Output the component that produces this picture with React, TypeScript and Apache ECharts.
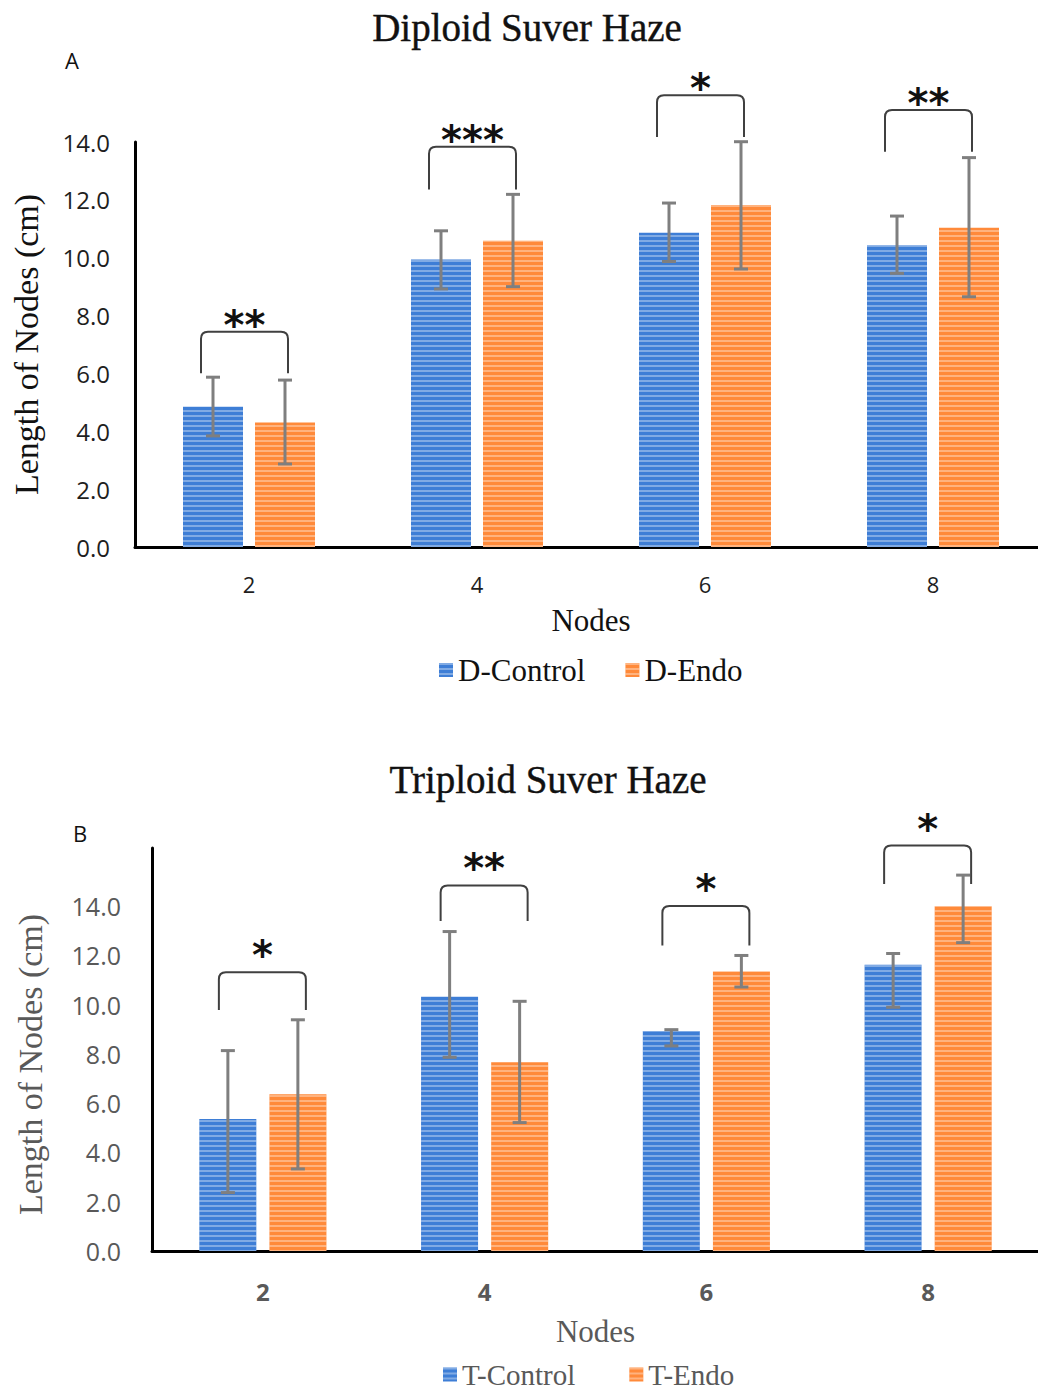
import React, { useEffect, useRef } from 'react';
import * as echarts from 'echarts';

// ---------- data ----------
const nodes = ['2', '4', '6', '8'];
const yTicksA = [0, 2, 4, 6, 8, 10, 12, 14];

// Panel A – Diploid
const dControl = [4.85, 9.94, 10.86, 10.43];
const dEndo = [4.3, 10.59, 11.82, 11.04];
const dControlLow = [3.84, 8.92, 9.87, 9.46];
const dControlHigh = [5.87, 10.93, 11.89, 11.44];
const dEndoLow = [2.87, 9.0, 9.61, 8.65];
const dEndoHigh = [5.77, 12.19, 14.01, 13.46];
const dBracketTop = [7.44, 13.84, 15.62, 15.11];
const dBracketBottom = [6.01, 12.36, 14.17, 13.66];
const dStars = ['**', '***', '*', '**'];

// Panel B – Triploid
const tControl = [5.36, 10.32, 8.93, 11.61];
const tEndo = [6.36, 7.66, 11.34, 13.99];
const tControlLow = [2.37, 7.86, 8.32, 9.89];
const tControlHigh = [8.13, 12.96, 8.98, 12.07];
const tEndoLow = [3.33, 5.21, 10.71, 12.51];
const tEndoHigh = [9.38, 10.13, 11.99, 15.25];
const tBracketTop = [11.31, 14.83, 14.0, 16.45];
const tBracketBottom = [9.78, 13.39, 12.39, 14.89];
const tStars = ['*', '**', '*', '*'];

const BLUE = '#3E7ED6';
const ORANGE = '#FF8A3A';
const SERIF = '"Liberation Serif", "Times New Roman", serif';
const SANS = '"Open Sans", "Liberation Sans", sans-serif';

const stripes = {
  symbol: 'rect',
  symbolSize: 1,
  dashArrayX: [1, 0],
  dashArrayY: [1.5, 2.5],
  rotation: 0,
  color: 'rgba(255,255,255,0.35)',
};

function errData(low: number[], high: number[], s: number) {
  return low.map((l, i) => [i, l, high[i], s]);
}

function errRender(offsets: number[]) {
  return (params: any, api: any) => {
    const i = api.value(0);
    const lo = api.value(1);
    const hi = api.value(2);
    const s = api.value(3);
    const pt = api.coord([i, hi]);
    const pb = api.coord([i, lo]);
    const x = pt[0] + offsets[s];
    const cap = 7;
    const st = { stroke: '#7F7F7F', lineWidth: 3 };
    return {
      type: 'group',
      children: [
        { type: 'line', shape: { x1: x, y1: pt[1], x2: x, y2: pb[1] }, style: st },
        { type: 'line', shape: { x1: x - cap, y1: pt[1], x2: x + cap, y2: pt[1] }, style: st },
        { type: 'line', shape: { x1: x - cap, y1: pb[1], x2: x + cap, y2: pb[1] }, style: st },
      ],
    };
  };
}

function bracketRender(stars: string[], L: number, R: number, starOff: number) {
  return (params: any, api: any) => {
    const i = api.value(0);
    const top = api.value(1);
    const bot = api.value(2);
    const pt = api.coord([i, top]);
    const pb = api.coord([i, bot]);
    const xl = pt[0] + L;
    const xr = pt[0] + R;
    const yt = pt[1];
    const yb = pb[1];
    const r = 7;
    const d = `M${xl},${yb} L${xl},${yt + r} Q${xl},${yt} ${xl + r},${yt} L${xr - r},${yt} Q${xr},${yt} ${xr},${yt + r} L${xr},${yb}`;
    return {
      type: 'group',
      children: [
        { type: 'path', shape: { pathData: d }, style: { fill: 'none', stroke: '#404040', lineWidth: 2 } },
        {
          type: 'text',
          style: {
            text: stars[params.dataIndex],
            x: (xl + xr) / 2,
            y: yt + starOff,
            align: 'center',
            verticalAlign: 'middle',
            textAlign: 'center',
            textVerticalAlign: 'middle',
            fontSize: 40,
            fontWeight: 'bold',
            fontFamily: '"DejaVu Sans", sans-serif',
            fill: '#111',
          },
        },
      ],
    };
  };
}

const centered = { align: 'center', verticalAlign: 'middle', textAlign: 'center', textVerticalAlign: 'middle' };

export default function App() {
  const ref = useRef<HTMLDivElement>(null);
  useEffect(() => {
    if (!ref.current) return;
    const chart = echarts.init(ref.current, null, { renderer: 'svg' });
    const option: any = {
      animation: false,
      backgroundColor: '#fff',
      graphic: [
        { type: 'text', x: 527, y: 27, style: { text: 'Diploid Suver Haze', ...centered, fontSize: 39, fontFamily: SERIF, fill: '#111', stroke: '#111', lineWidth: 0.4 } },
        { type: 'text', x: 548, y: 779, style: { text: 'Triploid Suver Haze', ...centered, fontSize: 39, fontFamily: SERIF, fill: '#111', stroke: '#111', lineWidth: 0.4 } },
        { type: 'text', x: 72, y: 60, style: { text: 'A', ...centered, fontSize: 22, fontFamily: SANS, fill: '#111' } },
        { type: 'text', x: 80, y: 833, style: { text: 'B', ...centered, fontSize: 22, fontFamily: SANS, fill: '#111' } },
      ],
      legend: [
        {
          data: ['D-Control', 'D-Endo'],
          left: 439,
          top: 654,
          padding: 0,
          icon: 'rect',
          itemWidth: 14,
          itemHeight: 14,
          itemGap: 40,
          textStyle: { fontFamily: SERIF, fontSize: 31, color: '#111', lineHeight: 32 },
        },
        {
          data: ['T-Control', 'T-Endo'],
          left: 443,
          top: 1360,
          padding: 0,
          icon: 'rect',
          itemWidth: 14,
          itemHeight: 14,
          itemGap: 54,
          textStyle: { fontFamily: SERIF, fontSize: 29, color: '#595959', lineHeight: 28 },
        },
      ],
      grid: [
        { left: 135, top: 142, width: 912, height: 405, outerBoundsMode: 'none' },
        { left: 152, top: 848, width: 887, height: 403, outerBoundsMode: 'none' },
      ],
      xAxis: [
        {
          gridIndex: 0,
          type: 'category',
          data: nodes,
          axisLine: { lineStyle: { color: '#000', width: 3 } },
          axisTick: { show: false },
          axisLabel: { margin: 26, fontSize: 22, fontFamily: SANS, color: '#1e1e1e' },
          name: 'Nodes',
          nameLocation: 'middle',
          nameGap: 58,
          nameTextStyle: { fontFamily: SERIF, fontSize: 31, color: '#111' },
        },
        {
          gridIndex: 1,
          type: 'category',
          data: nodes,
          axisLine: { lineStyle: { color: '#000', width: 3 } },
          axisTick: { show: false },
          axisLabel: { margin: 28, fontSize: 24, fontWeight: 'bold', fontFamily: SANS, color: '#595959' },
          name: 'Nodes',
          nameLocation: 'middle',
          nameGap: 65,
          nameTextStyle: { fontFamily: SERIF, fontSize: 31, color: '#595959' },
        },
      ],
      yAxis: [
        {
          gridIndex: 0,
          type: 'value',
          min: yTicksA[0],
          max: yTicksA[yTicksA.length - 1],
          interval: 2,
          splitLine: { show: false },
          axisLine: { show: true, lineStyle: { color: '#000', width: 3 } },
          axisTick: { show: false },
          axisLabel: { margin: 25, fontSize: 24, fontFamily: SANS, color: '#1e1e1e', formatter: (v: number) => v.toFixed(1) },
          name: 'Length of Nodes (cm)',
          nameLocation: 'middle',
          nameRotate: 90,
          nameGap: 92,
          nameTextStyle: { fontFamily: SERIF, fontSize: 34, color: '#111' },
        },
        {
          gridIndex: 1,
          type: 'value',
          min: 0,
          max: 16.35,
          interval: 2,
          splitLine: { show: false },
          axisLine: { show: true, lineStyle: { color: '#000', width: 3 } },
          axisTick: { show: false },
          axisLabel: {
            margin: 31,
            fontSize: 25,
            fontFamily: SANS,
            color: '#595959',
            showMaxLabel: false,
            formatter: (v: number) => (v > 14 ? '' : v.toFixed(1)),
          },
          name: 'Length of Nodes (cm)',
          nameLocation: 'middle',
          nameRotate: 90,
          nameGap: 105,
          nameTextStyle: { fontFamily: SERIF, fontSize: 34, color: '#595959', padding: [0, 30, 0, 0] },
        },
      ],
      series: [
        {
          name: 'D-Control', type: 'bar', xAxisIndex: 0, yAxisIndex: 0, data: dControl,
          barWidth: 60, barGap: '20%', itemStyle: { color: BLUE, decal: stripes },
        },
        {
          name: 'D-Endo', type: 'bar', xAxisIndex: 0, yAxisIndex: 0, data: dEndo,
          barWidth: 60, barGap: '20%', itemStyle: { color: ORANGE, decal: stripes },
        },
        {
          name: 'T-Control', type: 'bar', xAxisIndex: 1, yAxisIndex: 1, data: tControl,
          barWidth: 57, barGap: '23%', itemStyle: { color: BLUE, decal: stripes },
        },
        {
          name: 'T-Endo', type: 'bar', xAxisIndex: 1, yAxisIndex: 1, data: tEndo,
          barWidth: 57, barGap: '23%', itemStyle: { color: ORANGE, decal: stripes },
        },
        {
          type: 'custom', xAxisIndex: 0, yAxisIndex: 0, z: 5, silent: true,
          data: [...errData(dControlLow, dControlHigh, 0), ...errData(dEndoLow, dEndoHigh, 1)],
          renderItem: errRender([-36, 36]),
        },
        {
          type: 'custom', xAxisIndex: 1, yAxisIndex: 1, z: 5, silent: true,
          data: [...errData(tControlLow, tControlHigh, 0), ...errData(tEndoLow, tEndoHigh, 1)],
          renderItem: errRender([-35, 35]),
        },
        {
          type: 'custom', xAxisIndex: 0, yAxisIndex: 0, z: 5, silent: true, clip: false,
          data: dBracketTop.map((t, i) => [i, t, dBracketBottom[i]]),
          renderItem: bracketRender(dStars, -48, 39, -7),
        },
        {
          type: 'custom', xAxisIndex: 1, yAxisIndex: 1, z: 5, silent: true, clip: false,
          data: tBracketTop.map((t, i) => [i, t, tBracketBottom[i]]),
          renderItem: bracketRender(tStars, -44, 43, -17),
        },
      ],
    };
    chart.setOption(option);
    return () => chart.dispose();
  }, []);
  return (
    <div style={{ position: 'absolute', left: 0, top: 0, width: 1038, height: 1391, overflow: 'hidden', background: '#fff' }}>
      <div ref={ref} style={{ width: 1038, height: 1391 }} />
    </div>
  );
}
